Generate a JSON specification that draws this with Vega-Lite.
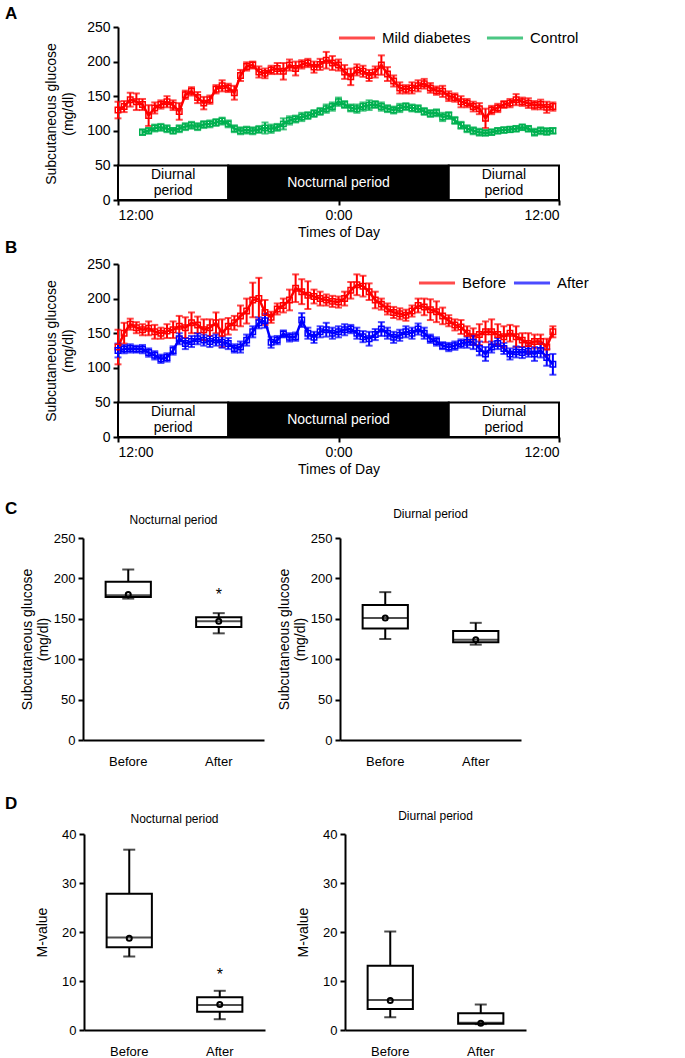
{
"$schema": "https://vega.github.io/schema/vega-lite/v6.json",
"padding": 5,
"background": "white",
"config": {
  "view": {"stroke": null},
  "font": "Liberation Sans",
  "axis": {"domainColor": "black", "domainWidth": 2, "tickColor": "black", "tickWidth": 2, "tickSize": 5, "labelColor": "black", "titleColor": "black", "grid": false, "labelFont": "Liberation Sans", "titleFont": "Liberation Sans", "labelFontSize": 14, "titleFontSize": 14, "titleFontWeight": "normal", "labelPadding": 3},
  "title": {"font": "Liberation Sans", "color": "black", "fontWeight": "normal"},
  "legend": {"labelFont": "Liberation Sans", "labelFontSize": 15, "labelColor": "black"}
},
"datasets": {
  "bands": [
    {"period": "Diurnal", "start": 0, "end": 360, "mid": 180, "label": "Diurnal\nperiod"},
    {"period": "Nocturnal", "start": 360, "end": 1080, "mid": 720, "label": "Nocturnal period"},
    {"period": "Diurnal", "start": 1080, "end": 1440, "mid": 1260, "label": "Diurnal\nperiod"}
  ],
  "seriesA": [
    {"time":0,"group":"Mild diabetes","glucose":130,"se":12},{"time":20,"group":"Mild diabetes","glucose":135,"se":8},{"time":40,"group":"Mild diabetes","glucose":145,"se":10},{"time":60,"group":"Mild diabetes","glucose":142,"se":12},{"time":80,"group":"Mild diabetes","glucose":138,"se":8},{"time":100,"group":"Mild diabetes","glucose":122,"se":15},{"time":120,"group":"Mild diabetes","glucose":133,"se":8},{"time":140,"group":"Mild diabetes","glucose":138,"se":6},{"time":160,"group":"Mild diabetes","glucose":142,"se":8},{"time":180,"group":"Mild diabetes","glucose":137,"se":7},{"time":200,"group":"Mild diabetes","glucose":128,"se":12},{"time":220,"group":"Mild diabetes","glucose":152,"se":6},{"time":240,"group":"Mild diabetes","glucose":157,"se":6},{"time":260,"group":"Mild diabetes","glucose":148,"se":8},{"time":280,"group":"Mild diabetes","glucose":140,"se":9},{"time":300,"group":"Mild diabetes","glucose":145,"se":6},{"time":320,"group":"Mild diabetes","glucose":160,"se":6},{"time":340,"group":"Mild diabetes","glucose":165,"se":8},{"time":360,"group":"Mild diabetes","glucose":162,"se":6},{"time":380,"group":"Mild diabetes","glucose":155,"se":10},{"time":400,"group":"Mild diabetes","glucose":180,"se":8},{"time":420,"group":"Mild diabetes","glucose":193,"se":6},{"time":440,"group":"Mild diabetes","glucose":195,"se":5},{"time":460,"group":"Mild diabetes","glucose":185,"se":8},{"time":480,"group":"Mild diabetes","glucose":183,"se":7},{"time":500,"group":"Mild diabetes","glucose":188,"se":6},{"time":520,"group":"Mild diabetes","glucose":190,"se":8},{"time":540,"group":"Mild diabetes","glucose":186,"se":12},{"time":560,"group":"Mild diabetes","glucose":195,"se":8},{"time":580,"group":"Mild diabetes","glucose":190,"se":10},{"time":600,"group":"Mild diabetes","glucose":196,"se":6},{"time":620,"group":"Mild diabetes","glucose":198,"se":6},{"time":640,"group":"Mild diabetes","glucose":192,"se":8},{"time":660,"group":"Mild diabetes","glucose":196,"se":8},{"time":680,"group":"Mild diabetes","glucose":202,"se":12},{"time":700,"group":"Mild diabetes","glucose":198,"se":10},{"time":720,"group":"Mild diabetes","glucose":195,"se":8},{"time":740,"group":"Mild diabetes","glucose":185,"se":10},{"time":760,"group":"Mild diabetes","glucose":178,"se":12},{"time":780,"group":"Mild diabetes","glucose":188,"se":8},{"time":800,"group":"Mild diabetes","glucose":186,"se":8},{"time":820,"group":"Mild diabetes","glucose":180,"se":8},{"time":840,"group":"Mild diabetes","glucose":185,"se":8},{"time":860,"group":"Mild diabetes","glucose":195,"se":14},{"time":880,"group":"Mild diabetes","glucose":182,"se":10},{"time":900,"group":"Mild diabetes","glucose":172,"se":8},{"time":920,"group":"Mild diabetes","glucose":162,"se":8},{"time":940,"group":"Mild diabetes","glucose":160,"se":6},{"time":960,"group":"Mild diabetes","glucose":162,"se":8},{"time":980,"group":"Mild diabetes","glucose":165,"se":8},{"time":1000,"group":"Mild diabetes","glucose":168,"se":7},{"time":1020,"group":"Mild diabetes","glucose":162,"se":7},{"time":1040,"group":"Mild diabetes","glucose":158,"se":6},{"time":1060,"group":"Mild diabetes","glucose":157,"se":8},{"time":1080,"group":"Mild diabetes","glucose":150,"se":7},{"time":1100,"group":"Mild diabetes","glucose":148,"se":6},{"time":1120,"group":"Mild diabetes","glucose":142,"se":8},{"time":1140,"group":"Mild diabetes","glucose":140,"se":6},{"time":1160,"group":"Mild diabetes","glucose":135,"se":7},{"time":1180,"group":"Mild diabetes","glucose":132,"se":8},{"time":1200,"group":"Mild diabetes","glucose":118,"se":14},{"time":1220,"group":"Mild diabetes","glucose":130,"se":6},{"time":1240,"group":"Mild diabetes","glucose":133,"se":6},{"time":1260,"group":"Mild diabetes","glucose":138,"se":5},{"time":1280,"group":"Mild diabetes","glucose":140,"se":6},{"time":1300,"group":"Mild diabetes","glucose":145,"se":8},{"time":1320,"group":"Mild diabetes","glucose":142,"se":6},{"time":1340,"group":"Mild diabetes","glucose":140,"se":7},{"time":1360,"group":"Mild diabetes","glucose":137,"se":6},{"time":1380,"group":"Mild diabetes","glucose":138,"se":7},{"time":1400,"group":"Mild diabetes","glucose":134,"se":8},{"time":1420,"group":"Mild diabetes","glucose":135,"se":6},
    {"time":80,"group":"Control","glucose":98,"se":4},{"time":100,"group":"Control","glucose":100,"se":4},{"time":120,"group":"Control","glucose":104,"se":5},{"time":140,"group":"Control","glucose":105,"se":5},{"time":160,"group":"Control","glucose":103,"se":5},{"time":180,"group":"Control","glucose":100,"se":4},{"time":200,"group":"Control","glucose":103,"se":5},{"time":220,"group":"Control","glucose":106,"se":5},{"time":240,"group":"Control","glucose":108,"se":5},{"time":260,"group":"Control","glucose":106,"se":5},{"time":280,"group":"Control","glucose":109,"se":5},{"time":300,"group":"Control","glucose":110,"se":5},{"time":320,"group":"Control","glucose":112,"se":5},{"time":340,"group":"Control","glucose":114,"se":5},{"time":360,"group":"Control","glucose":110,"se":5},{"time":380,"group":"Control","glucose":103,"se":5},{"time":400,"group":"Control","glucose":100,"se":5},{"time":420,"group":"Control","glucose":101,"se":5},{"time":440,"group":"Control","glucose":100,"se":5},{"time":460,"group":"Control","glucose":102,"se":5},{"time":480,"group":"Control","glucose":104,"se":8},{"time":500,"group":"Control","glucose":103,"se":6},{"time":520,"group":"Control","glucose":105,"se":5},{"time":540,"group":"Control","glucose":110,"se":8},{"time":560,"group":"Control","glucose":115,"se":6},{"time":580,"group":"Control","glucose":117,"se":5},{"time":600,"group":"Control","glucose":120,"se":6},{"time":620,"group":"Control","glucose":122,"se":5},{"time":640,"group":"Control","glucose":125,"se":5},{"time":660,"group":"Control","glucose":128,"se":5},{"time":680,"group":"Control","glucose":132,"se":6},{"time":700,"group":"Control","glucose":135,"se":6},{"time":720,"group":"Control","glucose":142,"se":6},{"time":740,"group":"Control","glucose":138,"se":5},{"time":760,"group":"Control","glucose":133,"se":5},{"time":780,"group":"Control","glucose":132,"se":6},{"time":800,"group":"Control","glucose":135,"se":6},{"time":820,"group":"Control","glucose":137,"se":7},{"time":840,"group":"Control","glucose":138,"se":5},{"time":860,"group":"Control","glucose":135,"se":6},{"time":880,"group":"Control","glucose":132,"se":5},{"time":900,"group":"Control","glucose":130,"se":5},{"time":920,"group":"Control","glucose":133,"se":6},{"time":940,"group":"Control","glucose":135,"se":5},{"time":960,"group":"Control","glucose":133,"se":5},{"time":980,"group":"Control","glucose":132,"se":5},{"time":1000,"group":"Control","glucose":128,"se":5},{"time":1020,"group":"Control","glucose":125,"se":5},{"time":1040,"group":"Control","glucose":126,"se":5},{"time":1060,"group":"Control","glucose":120,"se":6},{"time":1080,"group":"Control","glucose":122,"se":5},{"time":1100,"group":"Control","glucose":115,"se":5},{"time":1120,"group":"Control","glucose":108,"se":5},{"time":1140,"group":"Control","glucose":103,"se":5},{"time":1160,"group":"Control","glucose":100,"se":5},{"time":1180,"group":"Control","glucose":98,"se":5},{"time":1200,"group":"Control","glucose":97,"se":4},{"time":1220,"group":"Control","glucose":98,"se":4},{"time":1240,"group":"Control","glucose":100,"se":4},{"time":1260,"group":"Control","glucose":101,"se":4},{"time":1280,"group":"Control","glucose":102,"se":4},{"time":1300,"group":"Control","glucose":103,"se":4},{"time":1320,"group":"Control","glucose":105,"se":4},{"time":1340,"group":"Control","glucose":103,"se":4},{"time":1360,"group":"Control","glucose":98,"se":5},{"time":1380,"group":"Control","glucose":100,"se":5},{"time":1400,"group":"Control","glucose":99,"se":5},{"time":1420,"group":"Control","glucose":100,"se":4}
  ],
  "seriesB": [
    {"time":0,"group":"Before","glucose":130,"se":25},{"time":20,"group":"Before","glucose":150,"se":15},{"time":40,"group":"Before","glucose":163,"se":8},{"time":60,"group":"Before","glucose":158,"se":8},{"time":80,"group":"Before","glucose":155,"se":8},{"time":100,"group":"Before","glucose":157,"se":10},{"time":120,"group":"Before","glucose":152,"se":10},{"time":140,"group":"Before","glucose":150,"se":8},{"time":160,"group":"Before","glucose":153,"se":10},{"time":180,"group":"Before","glucose":155,"se":12},{"time":200,"group":"Before","glucose":160,"se":15},{"time":220,"group":"Before","glucose":158,"se":15},{"time":240,"group":"Before","glucose":165,"se":15},{"time":260,"group":"Before","glucose":162,"se":12},{"time":280,"group":"Before","glucose":155,"se":15},{"time":300,"group":"Before","glucose":158,"se":12},{"time":320,"group":"Before","glucose":165,"se":15},{"time":340,"group":"Before","glucose":150,"se":20},{"time":360,"group":"Before","glucose":160,"se":12},{"time":380,"group":"Before","glucose":165,"se":10},{"time":400,"group":"Before","glucose":175,"se":15},{"time":420,"group":"Before","glucose":182,"se":18},{"time":440,"group":"Before","glucose":198,"se":25},{"time":460,"group":"Before","glucose":200,"se":30},{"time":480,"group":"Before","glucose":180,"se":18},{"time":500,"group":"Before","glucose":173,"se":8},{"time":520,"group":"Before","glucose":185,"se":8},{"time":540,"group":"Before","glucose":190,"se":10},{"time":560,"group":"Before","glucose":198,"se":15},{"time":580,"group":"Before","glucose":215,"se":20},{"time":600,"group":"Before","glucose":210,"se":18},{"time":620,"group":"Before","glucose":205,"se":20},{"time":640,"group":"Before","glucose":203,"se":10},{"time":660,"group":"Before","glucose":200,"se":10},{"time":680,"group":"Before","glucose":198,"se":8},{"time":700,"group":"Before","glucose":196,"se":8},{"time":720,"group":"Before","glucose":195,"se":8},{"time":740,"group":"Before","glucose":200,"se":10},{"time":760,"group":"Before","glucose":212,"se":12},{"time":780,"group":"Before","glucose":220,"se":15},{"time":800,"group":"Before","glucose":218,"se":15},{"time":820,"group":"Before","glucose":210,"se":12},{"time":840,"group":"Before","glucose":198,"se":12},{"time":860,"group":"Before","glucose":192,"se":8},{"time":880,"group":"Before","glucose":185,"se":8},{"time":900,"group":"Before","glucose":180,"se":8},{"time":920,"group":"Before","glucose":178,"se":8},{"time":940,"group":"Before","glucose":176,"se":8},{"time":960,"group":"Before","glucose":182,"se":8},{"time":980,"group":"Before","glucose":190,"se":10},{"time":1000,"group":"Before","glucose":188,"se":12},{"time":1020,"group":"Before","glucose":184,"se":15},{"time":1040,"group":"Before","glucose":181,"se":15},{"time":1060,"group":"Before","glucose":175,"se":12},{"time":1080,"group":"Before","glucose":168,"se":8},{"time":1100,"group":"Before","glucose":162,"se":8},{"time":1120,"group":"Before","glucose":159,"se":10},{"time":1140,"group":"Before","glucose":150,"se":10},{"time":1160,"group":"Before","glucose":145,"se":12},{"time":1180,"group":"Before","glucose":148,"se":15},{"time":1200,"group":"Before","glucose":152,"se":15},{"time":1220,"group":"Before","glucose":152,"se":18},{"time":1240,"group":"Before","glucose":148,"se":15},{"time":1260,"group":"Before","glucose":145,"se":15},{"time":1280,"group":"Before","glucose":150,"se":12},{"time":1300,"group":"Before","glucose":145,"se":15},{"time":1320,"group":"Before","glucose":140,"se":10},{"time":1340,"group":"Before","glucose":135,"se":15},{"time":1360,"group":"Before","glucose":138,"se":10},{"time":1380,"group":"Before","glucose":138,"se":10},{"time":1400,"group":"Before","glucose":130,"se":12},{"time":1420,"group":"Before","glucose":152,"se":8},
    {"time":0,"group":"After","glucose":125,"se":10},{"time":20,"group":"After","glucose":127,"se":6},{"time":40,"group":"After","glucose":128,"se":6},{"time":60,"group":"After","glucose":127,"se":5},{"time":80,"group":"After","glucose":127,"se":6},{"time":100,"group":"After","glucose":122,"se":6},{"time":120,"group":"After","glucose":118,"se":6},{"time":140,"group":"After","glucose":113,"se":6},{"time":160,"group":"After","glucose":115,"se":6},{"time":180,"group":"After","glucose":125,"se":6},{"time":200,"group":"After","glucose":142,"se":8},{"time":220,"group":"After","glucose":135,"se":8},{"time":240,"group":"After","glucose":138,"se":8},{"time":260,"group":"After","glucose":142,"se":8},{"time":280,"group":"After","glucose":140,"se":8},{"time":300,"group":"After","glucose":138,"se":8},{"time":320,"group":"After","glucose":140,"se":8},{"time":340,"group":"After","glucose":137,"se":8},{"time":360,"group":"After","glucose":135,"se":8},{"time":380,"group":"After","glucose":128,"se":6},{"time":400,"group":"After","glucose":130,"se":8},{"time":420,"group":"After","glucose":140,"se":8},{"time":440,"group":"After","glucose":152,"se":8},{"time":460,"group":"After","glucose":165,"se":8},{"time":480,"group":"After","glucose":168,"se":10},{"time":500,"group":"After","glucose":137,"se":8},{"time":520,"group":"After","glucose":140,"se":6},{"time":540,"group":"After","glucose":149,"se":5},{"time":560,"group":"After","glucose":144,"se":6},{"time":580,"group":"After","glucose":145,"se":6},{"time":600,"group":"After","glucose":169,"se":10},{"time":620,"group":"After","glucose":150,"se":8},{"time":640,"group":"After","glucose":144,"se":8},{"time":660,"group":"After","glucose":152,"se":8},{"time":680,"group":"After","glucose":155,"se":10},{"time":700,"group":"After","glucose":150,"se":8},{"time":720,"group":"After","glucose":152,"se":8},{"time":740,"group":"After","glucose":155,"se":8},{"time":760,"group":"After","glucose":156,"se":6},{"time":780,"group":"After","glucose":150,"se":8},{"time":800,"group":"After","glucose":145,"se":8},{"time":820,"group":"After","glucose":142,"se":10},{"time":840,"group":"After","glucose":148,"se":8},{"time":860,"group":"After","glucose":156,"se":10},{"time":880,"group":"After","glucose":150,"se":8},{"time":900,"group":"After","glucose":144,"se":8},{"time":920,"group":"After","glucose":147,"se":8},{"time":940,"group":"After","glucose":152,"se":8},{"time":960,"group":"After","glucose":150,"se":8},{"time":980,"group":"After","glucose":156,"se":8},{"time":1000,"group":"After","glucose":150,"se":8},{"time":1020,"group":"After","glucose":142,"se":6},{"time":1040,"group":"After","glucose":138,"se":6},{"time":1060,"group":"After","glucose":132,"se":5},{"time":1080,"group":"After","glucose":130,"se":6},{"time":1100,"group":"After","glucose":132,"se":6},{"time":1120,"group":"After","glucose":135,"se":6},{"time":1140,"group":"After","glucose":137,"se":8},{"time":1160,"group":"After","glucose":137,"se":10},{"time":1180,"group":"After","glucose":128,"se":10},{"time":1200,"group":"After","glucose":120,"se":10},{"time":1220,"group":"After","glucose":130,"se":8},{"time":1240,"group":"After","glucose":135,"se":8},{"time":1260,"group":"After","glucose":128,"se":8},{"time":1280,"group":"After","glucose":120,"se":8},{"time":1300,"group":"After","glucose":123,"se":8},{"time":1320,"group":"After","glucose":122,"se":8},{"time":1340,"group":"After","glucose":124,"se":8},{"time":1360,"group":"After","glucose":120,"se":10},{"time":1380,"group":"After","glucose":125,"se":10},{"time":1400,"group":"After","glucose":115,"se":12},{"time":1420,"group":"After","glucose":105,"se":15}
  ],
  "boxes": [
    {"measure":"glucose","period":"Nocturnal","group":"Before","min":175,"q1":177,"median":179,"q3":196,"max":211,"mean":180},
    {"measure":"glucose","period":"Nocturnal","group":"After","min":132,"q1":140,"median":147,"q3":152,"max":157,"mean":147,"star":180},
    {"measure":"glucose","period":"Diurnal","group":"Before","min":125,"q1":138,"median":151,"q3":167,"max":183,"mean":151},
    {"measure":"glucose","period":"Diurnal","group":"After","min":118,"q1":121,"median":124,"q3":135,"max":145,"mean":124},
    {"measure":"M","period":"Nocturnal","group":"Before","min":15,"q1":16.9,"median":18.9,"q3":27.8,"max":36.8,"mean":18.7},
    {"measure":"M","period":"Nocturnal","group":"After","min":2.2,"q1":3.7,"median":5.1,"q3":6.7,"max":8,"mean":5.2,"star":11.3},
    {"measure":"M","period":"Diurnal","group":"Before","min":2.6,"q1":4.3,"median":6.1,"q3":13.1,"max":20.1,"mean":6.0},
    {"measure":"M","period":"Diurnal","group":"After","min":1.2,"q1":1.3,"median":1.5,"q3":3.4,"max":5.2,"mean":1.4}
  ]
},
"spacing": 24,
"resolve": {"scale": {"color": "independent"}, "legend": {"color": "independent"}},
"vconcat": [
  {
    "spacing": 0,
    "resolve": {"scale": {"color": "independent"}, "legend": {"color": "independent"}},
    "vconcat": [
      {
        "spacing": 0,
        "hconcat": [
          {"width": 39, "height": 173, "data": {"values": []}, "mark": "point",
           "title": {"text": "A", "anchor": "start", "frame": "group", "baseline": "alphabetic", "offset": 0, "dy": 9, "fontSize": 17, "fontWeight": "bold"}},
          {
            "width": 441, "height": 173,
            "layer": [
              {"data": {"name": "bands"}, "mark": {"type": "rect", "stroke": "black", "strokeWidth": 2},
               "encoding": {
                 "x": {"field": "start", "type": "quantitative", "title": "Times of Day", "scale": {"domain": [0, 1440], "nice": false, "zero": false}, "axis": {"values": [0, 720, 1440], "labelExpr": "datum.value === 720 ? '0:00' : '12:00'", "titlePadding": 3}},
                 "x2": {"field": "end"},
                 "y": {"datum": 0, "type": "quantitative", "title": ["Subcutaneous glucose", "(mg/dl)"], "scale": {"domain": [0, 250], "nice": false}, "axis": {"values": [0, 50, 100, 150, 200, 250], "titlePadding": 11, "titleLineHeight": 17}},
                 "y2": {"datum": 50},
                 "fill": {"condition": {"test": "datum.period === 'Nocturnal'", "value": "black"}, "value": "white"}}},
              {"data": {"name": "bands"}, "transform": [{"filter": "datum.period === 'Diurnal'"}], "mark": {"type": "text", "fontSize": 14, "lineBreak": "\n", "lineHeight": 16, "dy": -8, "font": "Liberation Sans", "color": "black"},
               "encoding": {
                 "x": {"field": "mid", "type": "quantitative", "title": "Times of Day", "axis": {"values": [0, 720, 1440], "labelExpr": "datum.value === 720 ? '0:00' : '12:00'", "titlePadding": 3}},
                 "y": {"datum": 25, "type": "quantitative", "title": ["Subcutaneous glucose", "(mg/dl)"], "axis": {"values": [0, 50, 100, 150, 200, 250], "titlePadding": 11, "titleLineHeight": 17}},
                 "text": {"field": "label"}}},
              {"data": {"name": "bands"}, "transform": [{"filter": "datum.period === 'Nocturnal'"}], "mark": {"type": "text", "fontSize": 14, "font": "Liberation Sans", "color": "white"},
               "encoding": {
                 "x": {"field": "mid", "type": "quantitative", "title": "Times of Day", "axis": {"values": [0, 720, 1440], "labelExpr": "datum.value === 720 ? '0:00' : '12:00'", "titlePadding": 3}},
                 "y": {"datum": 25, "type": "quantitative", "title": ["Subcutaneous glucose", "(mg/dl)"], "axis": {"values": [0, 50, 100, 150, 200, 250], "titlePadding": 11, "titleLineHeight": 17}},
                 "text": {"field": "label"}}},
              {"data": {"name": "seriesA"}, "mark": {"type": "line", "strokeWidth": 2.5},
               "encoding": {
                 "x": {"field": "time", "type": "quantitative", "title": "Times of Day", "axis": {"values": [0, 720, 1440], "labelExpr": "datum.value === 720 ? '0:00' : '12:00'", "titlePadding": 3}},
                 "y": {"field": "glucose", "type": "quantitative", "title": ["Subcutaneous glucose", "(mg/dl)"], "axis": {"values": [0, 50, 100, 150, 200, 250], "titlePadding": 11, "titleLineHeight": 17}},
                 "color": {"field": "group", "type": "nominal", "scale": {"domain": ["Mild diabetes", "Control"], "range": ["#FF0000", "#00B050"]},
                   "legend": {"orient": "none", "legendX": 332, "legendY": -9, "direction": "horizontal", "title": null, "symbolType": "stroke", "symbolStrokeWidth": 3, "symbolSize": 1300, "labelOffset": 5, "columnPadding": 9}}}},
              {"data": {"name": "seriesA"}, "mark": {"type": "errorbar", "ticks": {"size": 7}, "thickness": 2},
               "encoding": {
                 "x": {"field": "time", "type": "quantitative", "title": "Times of Day", "axis": {"values": [0, 720, 1440], "labelExpr": "datum.value === 720 ? '0:00' : '12:00'", "titlePadding": 3}},
                 "y": {"field": "glucose", "type": "quantitative", "title": ["Subcutaneous glucose", "(mg/dl)"], "axis": {"values": [0, 50, 100, 150, 200, 250], "titlePadding": 11, "titleLineHeight": 17}},
                 "yError": {"field": "se"},
                 "color": {"field": "group", "type": "nominal"}}},
              {"data": {"name": "seriesA"}, "mark": {"type": "point", "shape": "square", "filled": false, "size": 30, "strokeWidth": 1.5, "opacity": 1},
               "encoding": {
                 "x": {"field": "time", "type": "quantitative", "title": "Times of Day", "axis": {"values": [0, 720, 1440], "labelExpr": "datum.value === 720 ? '0:00' : '12:00'", "titlePadding": 3}},
                 "y": {"field": "glucose", "type": "quantitative", "title": ["Subcutaneous glucose", "(mg/dl)"], "axis": {"values": [0, 50, 100, 150, 200, 250], "titlePadding": 11, "titleLineHeight": 17}},
                 "color": {"field": "group", "type": "nominal"}}}
            ]
          }
        ]
      },
      {
        "spacing": 0,
        "hconcat": [
          {"width": 39, "height": 173, "data": {"values": []}, "mark": "point",
           "title": {"text": "B", "anchor": "start", "frame": "group", "baseline": "alphabetic", "offset": 0, "dy": 6, "fontSize": 17, "fontWeight": "bold"}},
          {
            "width": 441, "height": 173,
            "layer": [
              {"data": {"name": "bands"}, "mark": {"type": "rect", "stroke": "black", "strokeWidth": 2},
               "encoding": {
                 "x": {"field": "start", "type": "quantitative", "title": "Times of Day", "scale": {"domain": [0, 1440], "nice": false, "zero": false}, "axis": {"values": [0, 720, 1440], "labelExpr": "datum.value === 720 ? '0:00' : '12:00'", "titlePadding": 3}},
                 "x2": {"field": "end"},
                 "y": {"datum": 0, "type": "quantitative", "title": ["Subcutaneous glucose", "(mg/dl)"], "scale": {"domain": [0, 250], "nice": false}, "axis": {"values": [0, 50, 100, 150, 200, 250], "titlePadding": 11, "titleLineHeight": 17}},
                 "y2": {"datum": 50},
                 "fill": {"condition": {"test": "datum.period === 'Nocturnal'", "value": "black"}, "value": "white"}}},
              {"data": {"name": "bands"}, "transform": [{"filter": "datum.period === 'Diurnal'"}], "mark": {"type": "text", "fontSize": 14, "lineBreak": "\n", "lineHeight": 16, "dy": -8, "font": "Liberation Sans", "color": "black"},
               "encoding": {
                 "x": {"field": "mid", "type": "quantitative", "title": "Times of Day", "axis": {"values": [0, 720, 1440], "labelExpr": "datum.value === 720 ? '0:00' : '12:00'", "titlePadding": 3}},
                 "y": {"datum": 25, "type": "quantitative", "title": ["Subcutaneous glucose", "(mg/dl)"], "axis": {"values": [0, 50, 100, 150, 200, 250], "titlePadding": 11, "titleLineHeight": 17}},
                 "text": {"field": "label"}}},
              {"data": {"name": "bands"}, "transform": [{"filter": "datum.period === 'Nocturnal'"}], "mark": {"type": "text", "fontSize": 14, "font": "Liberation Sans", "color": "white"},
               "encoding": {
                 "x": {"field": "mid", "type": "quantitative", "title": "Times of Day", "axis": {"values": [0, 720, 1440], "labelExpr": "datum.value === 720 ? '0:00' : '12:00'", "titlePadding": 3}},
                 "y": {"datum": 25, "type": "quantitative", "title": ["Subcutaneous glucose", "(mg/dl)"], "axis": {"values": [0, 50, 100, 150, 200, 250], "titlePadding": 11, "titleLineHeight": 17}},
                 "text": {"field": "label"}}},
              {"data": {"name": "seriesB"}, "mark": {"type": "line", "strokeWidth": 2.5},
               "encoding": {
                 "x": {"field": "time", "type": "quantitative", "title": "Times of Day", "axis": {"values": [0, 720, 1440], "labelExpr": "datum.value === 720 ? '0:00' : '12:00'", "titlePadding": 3}},
                 "y": {"field": "glucose", "type": "quantitative", "title": ["Subcutaneous glucose", "(mg/dl)"], "axis": {"values": [0, 50, 100, 150, 200, 250], "titlePadding": 11, "titleLineHeight": 17}},
                 "color": {"field": "group", "type": "nominal", "scale": {"domain": ["Before", "After"], "range": ["#FF0000", "#0000FF"]},
                   "legend": {"orient": "none", "legendX": 412, "legendY": -1, "direction": "horizontal", "title": null, "symbolType": "stroke", "symbolStrokeWidth": 3, "symbolSize": 1300, "labelOffset": 5, "columnPadding": 0}}}},
              {"data": {"name": "seriesB"}, "mark": {"type": "errorbar", "ticks": {"size": 7}, "thickness": 2},
               "encoding": {
                 "x": {"field": "time", "type": "quantitative", "title": "Times of Day", "axis": {"values": [0, 720, 1440], "labelExpr": "datum.value === 720 ? '0:00' : '12:00'", "titlePadding": 3}},
                 "y": {"field": "glucose", "type": "quantitative", "title": ["Subcutaneous glucose", "(mg/dl)"], "axis": {"values": [0, 50, 100, 150, 200, 250], "titlePadding": 11, "titleLineHeight": 17}},
                 "yError": {"field": "se"},
                 "color": {"field": "group", "type": "nominal"}}},
              {"data": {"name": "seriesB"}, "mark": {"type": "point", "shape": "square", "filled": false, "size": 30, "strokeWidth": 1.5, "opacity": 1},
               "encoding": {
                 "x": {"field": "time", "type": "quantitative", "title": "Times of Day", "axis": {"values": [0, 720, 1440], "labelExpr": "datum.value === 720 ? '0:00' : '12:00'", "titlePadding": 3}},
                 "y": {"field": "glucose", "type": "quantitative", "title": ["Subcutaneous glucose", "(mg/dl)"], "axis": {"values": [0, 50, 100, 150, 200, 250], "titlePadding": 11, "titleLineHeight": 17}},
                 "color": {"field": "group", "type": "nominal"}}}
            ]
          }
        ]
      }
    ]
  },
  {
    "spacing": 27,
    "vconcat": [
      {
        "spacing": 0,
        "hconcat": [
          {"width": 15, "height": 202, "data": {"values": []}, "mark": "point",
           "title": {"text": "C", "anchor": "start", "frame": "group", "baseline": "alphabetic", "offset": 7, "fontSize": 17, "fontWeight": "bold"}},
          {
            "spacing": 13,
            "hconcat": [
              {
                "width": 181, "height": 202,
                "title": {"text": "Nocturnal period", "fontSize": 12, "font": "Liberation Sans", "offset": 5, "anchor": "middle"},
                "data": {"name": "boxes"},
                "transform": [{"filter": "datum.measure === 'glucose' && datum.period === 'Nocturnal'"}],
                "encoding": {"x": {"field": "group", "type": "nominal", "sort": ["Before", "After"], "scale": {"paddingInner": 0.5, "paddingOuter": 0.25}, "axis": {"title": null, "labelAngle": 0, "ticks": false, "labelPadding": 15, "labelFontSize": 13}}},
                "layer": [
                  {"mark": {"type": "rule", "color": "black", "strokeWidth": 2}, "encoding": {"y": {"field": "min", "type": "quantitative", "scale": {"domain": [0, 250], "nice": false}, "title": ["Subcutaneous  glucose", "(mg/dl)"], "axis": {"values": [0, 50, 100, 150, 200, 250], "labelFontSize": 13, "titlePadding": 3, "titleLineHeight": 16}}, "y2": {"field": "max"}}},
                  {"mark": {"type": "tick", "color": "black", "thickness": 2, "size": 12}, "encoding": {"y": {"field": "min", "type": "quantitative", "title": ["Subcutaneous  glucose", "(mg/dl)"]}}},
                  {"mark": {"type": "tick", "color": "black", "thickness": 2, "size": 12}, "encoding": {"y": {"field": "max", "type": "quantitative", "title": ["Subcutaneous  glucose", "(mg/dl)"]}}},
                  {"mark": {"type": "bar", "fill": "white", "stroke": "black", "strokeWidth": 2}, "encoding": {"y": {"field": "q1", "type": "quantitative", "title": ["Subcutaneous  glucose", "(mg/dl)"]}, "y2": {"field": "q3"}}},
                  {"mark": {"type": "tick", "color": "black", "thickness": 2, "size": 45}, "encoding": {"y": {"field": "median", "type": "quantitative", "title": ["Subcutaneous  glucose", "(mg/dl)"]}}},
                  {"mark": {"type": "point", "shape": "circle", "filled": false, "color": "black", "size": 25, "strokeWidth": 2, "opacity": 1}, "encoding": {"y": {"field": "mean", "type": "quantitative", "title": ["Subcutaneous  glucose", "(mg/dl)"]}}},
                  {"mark": {"type": "text", "text": "*", "fontSize": 16, "color": "black"}, "encoding": {"y": {"field": "star", "type": "quantitative", "title": ["Subcutaneous  glucose", "(mg/dl)"]}}}
                ]
              },
              {
                "width": 181, "height": 202,
                "title": {"text": "Diurnal period", "fontSize": 12, "font": "Liberation Sans", "offset": 11, "anchor": "middle"},
                "data": {"name": "boxes"},
                "transform": [{"filter": "datum.measure === 'glucose' && datum.period === 'Diurnal'"}],
                "encoding": {"x": {"field": "group", "type": "nominal", "sort": ["Before", "After"], "scale": {"paddingInner": 0.5, "paddingOuter": 0.25}, "axis": {"title": null, "labelAngle": 0, "ticks": false, "labelPadding": 15, "labelFontSize": 13}}},
                "layer": [
                  {"mark": {"type": "rule", "color": "black", "strokeWidth": 2}, "encoding": {"y": {"field": "min", "type": "quantitative", "scale": {"domain": [0, 250], "nice": false}, "title": ["Subcutaneous  glucose", "(mg/dl)"], "axis": {"values": [0, 50, 100, 150, 200, 250], "labelFontSize": 13, "titlePadding": 3, "titleLineHeight": 16}}, "y2": {"field": "max"}}},
                  {"mark": {"type": "tick", "color": "black", "thickness": 2, "size": 12}, "encoding": {"y": {"field": "min", "type": "quantitative", "title": ["Subcutaneous  glucose", "(mg/dl)"]}}},
                  {"mark": {"type": "tick", "color": "black", "thickness": 2, "size": 12}, "encoding": {"y": {"field": "max", "type": "quantitative", "title": ["Subcutaneous  glucose", "(mg/dl)"]}}},
                  {"mark": {"type": "bar", "fill": "white", "stroke": "black", "strokeWidth": 2}, "encoding": {"y": {"field": "q1", "type": "quantitative", "title": ["Subcutaneous  glucose", "(mg/dl)"]}, "y2": {"field": "q3"}}},
                  {"mark": {"type": "tick", "color": "black", "thickness": 2, "size": 45}, "encoding": {"y": {"field": "median", "type": "quantitative", "title": ["Subcutaneous  glucose", "(mg/dl)"]}}},
                  {"mark": {"type": "point", "shape": "circle", "filled": false, "color": "black", "size": 25, "strokeWidth": 2, "opacity": 1}, "encoding": {"y": {"field": "mean", "type": "quantitative", "title": ["Subcutaneous  glucose", "(mg/dl)"]}}}
                ]
              }
            ]
          }
        ]
      },
      {
        "spacing": 0,
        "hconcat": [
          {"width": 30, "height": 196, "data": {"values": []}, "mark": "point",
           "title": {"text": "D", "anchor": "start", "frame": "group", "baseline": "alphabetic", "offset": 8, "fontSize": 17, "fontWeight": "bold"}},
          {
            "spacing": 31,
            "hconcat": [
              {
                "width": 181, "height": 196,
                "title": {"text": "Nocturnal period", "fontSize": 12, "font": "Liberation Sans", "offset": 2, "anchor": "middle"},
                "data": {"name": "boxes"},
                "transform": [{"filter": "datum.measure === 'M' && datum.period === 'Nocturnal'"}],
                "encoding": {"x": {"field": "group", "type": "nominal", "sort": ["Before", "After"], "scale": {"paddingInner": 0.5, "paddingOuter": 0.25}, "axis": {"title": null, "labelAngle": 0, "ticks": false, "labelPadding": 15, "labelFontSize": 13}}},
                "layer": [
                  {"mark": {"type": "rule", "color": "black", "strokeWidth": 2}, "encoding": {"y": {"field": "min", "type": "quantitative", "scale": {"domain": [0, 40], "nice": false}, "title": "M-value", "axis": {"values": [0, 5, 10, 15, 20, 25, 30, 35, 40], "labelFontSize": 13, "titlePadding": 12}}, "y2": {"field": "max"}}},
                  {"mark": {"type": "tick", "color": "black", "thickness": 2, "size": 12}, "encoding": {"y": {"field": "min", "type": "quantitative", "title": "M-value"}}},
                  {"mark": {"type": "tick", "color": "black", "thickness": 2, "size": 12}, "encoding": {"y": {"field": "max", "type": "quantitative", "title": "M-value"}}},
                  {"mark": {"type": "bar", "fill": "white", "stroke": "black", "strokeWidth": 2}, "encoding": {"y": {"field": "q1", "type": "quantitative", "title": "M-value"}, "y2": {"field": "q3"}}},
                  {"mark": {"type": "tick", "color": "black", "thickness": 2, "size": 45}, "encoding": {"y": {"field": "median", "type": "quantitative", "title": "M-value"}}},
                  {"mark": {"type": "point", "shape": "circle", "filled": false, "color": "black", "size": 25, "strokeWidth": 2, "opacity": 1}, "encoding": {"y": {"field": "mean", "type": "quantitative", "title": "M-value"}}},
                  {"mark": {"type": "text", "text": "*", "fontSize": 16, "color": "black"}, "encoding": {"y": {"field": "star", "type": "quantitative", "title": "M-value"}}}
                ]
              },
              {
                "width": 181, "height": 196,
                "title": {"text": "Diurnal period", "fontSize": 12, "font": "Liberation Sans", "offset": 5, "anchor": "middle"},
                "data": {"name": "boxes"},
                "transform": [{"filter": "datum.measure === 'M' && datum.period === 'Diurnal'"}],
                "encoding": {"x": {"field": "group", "type": "nominal", "sort": ["Before", "After"], "scale": {"paddingInner": 0.5, "paddingOuter": 0.25}, "axis": {"title": null, "labelAngle": 0, "ticks": false, "labelPadding": 15, "labelFontSize": 13}}},
                "layer": [
                  {"mark": {"type": "rule", "color": "black", "strokeWidth": 2}, "encoding": {"y": {"field": "min", "type": "quantitative", "scale": {"domain": [0, 40], "nice": false}, "title": "M-value", "axis": {"values": [0, 5, 10, 15, 20, 25, 30, 35, 40], "labelFontSize": 13, "titlePadding": 12}}, "y2": {"field": "max"}}},
                  {"mark": {"type": "tick", "color": "black", "thickness": 2, "size": 12}, "encoding": {"y": {"field": "min", "type": "quantitative", "title": "M-value"}}},
                  {"mark": {"type": "tick", "color": "black", "thickness": 2, "size": 12}, "encoding": {"y": {"field": "max", "type": "quantitative", "title": "M-value"}}},
                  {"mark": {"type": "bar", "fill": "white", "stroke": "black", "strokeWidth": 2}, "encoding": {"y": {"field": "q1", "type": "quantitative", "title": "M-value"}, "y2": {"field": "q3"}}},
                  {"mark": {"type": "tick", "color": "black", "thickness": 2, "size": 45}, "encoding": {"y": {"field": "median", "type": "quantitative", "title": "M-value"}}},
                  {"mark": {"type": "point", "shape": "circle", "filled": false, "color": "black", "size": 25, "strokeWidth": 2, "opacity": 1}, "encoding": {"y": {"field": "mean", "type": "quantitative", "title": "M-value"}}}
                ]
              }
            ]
          }
        ]
      }
    ]
  }
]
}
